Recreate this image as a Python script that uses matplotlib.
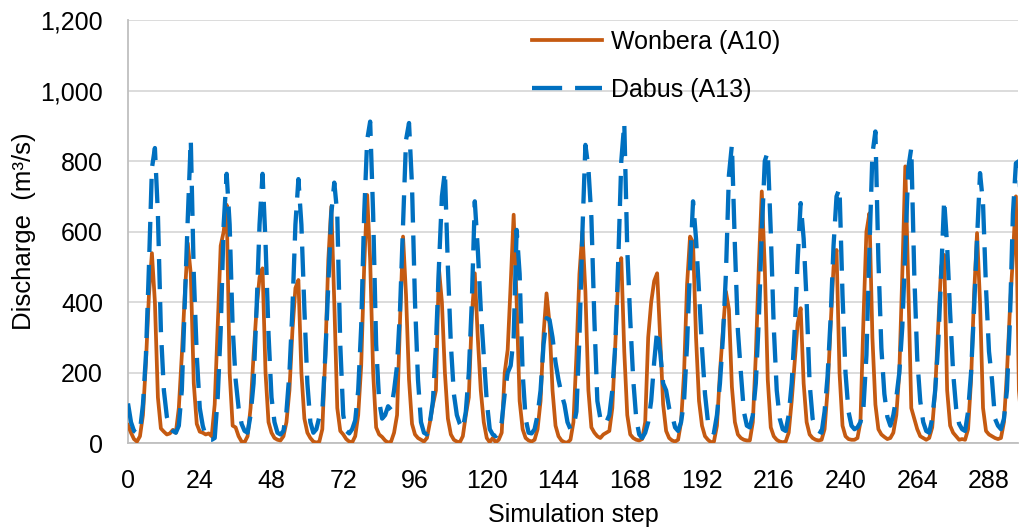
import matplotlib
matplotlib.use("Agg")
import matplotlib.pyplot as plt
from matplotlib.ticker import FuncFormatter

plt.rcParams['font.family'] = ['Liberation Sans', 'DejaVu Sans']

# Monthly simulated discharge (m3/s), one row of 12 values per simulated year
wonbera = [
    52, 30, 12, 5, 20, 80, 230, 420, 539, 400, 130, 42,
    33, 25, 28, 38, 30, 100, 250, 420, 567, 480, 170, 55,
    33, 30, 25, 28, 20, 110, 330, 560, 600, 676, 200, 50,
    45, 20, 5, 3, 20, 100, 250, 380, 470, 496, 200, 60,
    30, 15, 10, 8, 20, 60, 150, 320, 440, 463, 200, 70,
    30, 15, 5, 2, 5, 40, 250, 520, 671, 400, 100, 35,
    25, 12, 5, 3, 20, 80, 220, 500, 704, 520, 200, 45,
    25, 18, 8, 2, 5, 30, 80, 350, 586, 420, 180, 55,
    25, 15, 10, 5, 15, 60, 110, 150, 496, 400, 200, 70,
    25, 10, 5, 3, 20, 80, 130, 360, 482, 300, 150, 60,
    15, 3, 15, 3, 10, 30, 200, 265, 450, 648, 400, 120,
    40, 15, 8, 5, 10, 40, 120, 310, 425, 340, 150, 50,
    20, 8, 3, 2, 10, 60, 250, 480, 600, 430, 150, 45,
    30, 20, 15, 25, 30, 35, 100, 280, 470, 525, 260, 80,
    25, 15, 10, 8, 12, 60, 300, 400, 460, 482, 300, 110,
    35, 15, 8, 5, 10, 60, 200, 450, 586, 570, 300, 120,
    50, 20, 10, 3, 5, 50, 200, 320, 430, 380, 160, 60,
    25, 15, 10, 8, 8, 60, 250, 500, 714, 500, 180, 45,
    20, 10, 5, 3, 5, 30, 120, 230, 340, 383, 170, 60,
    25, 15, 10, 8, 10, 40, 150, 330, 500, 548, 200, 50,
    20, 12, 10, 10, 15, 60, 350, 600, 652, 300, 110, 40,
    25, 18, 12, 15, 30, 80, 200, 480, 785, 450, 100, 70,
    40, 20, 15, 10, 15, 45, 150, 330, 500, 534, 150, 50,
    30, 20, 10, 12, 10, 40, 180, 420, 596, 400, 100, 35,
    25, 20, 15, 12, 15, 60, 200, 380, 530, 700, 150, 50,
]

dabus = [
    113, 60, 35, 28, 35, 110, 250, 500, 780, 837, 650, 320,
    150, 75, 45, 35, 30, 50, 150, 400, 640, 860, 480, 250,
    100, 50, 20, 10, 10, 15, 130, 320, 620, 764, 620, 330,
    180, 100, 55, 35, 30, 80, 170, 380, 620, 764, 570, 310,
    130, 60, 30, 25, 35, 90, 200, 380, 620, 749, 620, 380,
    170, 60, 30, 40, 75, 90, 250, 450, 650, 739, 650, 280,
    80, 35, 28, 40, 65, 150, 330, 650, 860, 912, 650, 280,
    120, 70, 80, 105, 95, 150, 220, 380, 620, 860, 908, 730,
    400, 180, 60, 30, 25, 60, 120, 280, 500, 700, 771, 500,
    280, 140, 80, 55, 40, 90, 200, 400, 686, 550, 380, 250,
    120, 40, 25, 20, 30, 60, 140, 200, 220, 300, 605, 480,
    200, 70, 30, 28, 40, 80, 150, 280, 355, 350, 300, 230,
    180, 140, 110, 60, 40, 45, 90, 300, 600, 846, 780, 640,
    350, 120, 70, 55, 60, 80, 150, 280, 520, 800, 908, 550,
    350, 180, 70, 25, 15, 30, 60, 120, 230, 321, 260, 170,
    150, 100, 80, 45, 35, 60, 120, 280, 500, 686, 580, 430,
    270, 140, 60, 35, 30, 80, 170, 300, 480, 760, 846, 560,
    320, 200, 90, 50, 45, 80, 170, 350, 600, 800, 827, 600,
    330, 150, 70, 40, 35, 80, 170, 320, 520, 681, 580, 400,
    170, 70, 40, 35, 30, 90, 190, 350, 560, 700, 723, 420,
    200, 90, 50, 40, 45, 60, 100, 250, 550, 820, 884, 520,
    270, 140, 75, 50, 80, 130, 200, 330, 550, 780, 837, 480,
    240, 120, 60, 35, 30, 70, 150, 280, 480, 690, 560, 370,
    200, 100, 55, 40, 35, 90, 200, 380, 580, 766, 680, 440,
    260, 180, 70, 50, 40, 70, 150, 350, 650, 794, 800, 600,
]

steps = list(range(len(wonbera)))
x_ticks = list(range(0, 289, 24))
y_ticks = list(range(0, 1201, 200))
series_names = ['Wonbera (A10)', 'Dabus (A13)']

W, H = 1020, 529
fig = plt.figure(figsize=(W / 100, H / 100), dpi=100)
ax = fig.add_axes([128 / W, 1 - 443.3 / H, (1018 - 128) / W, (443.3 - 20) / H])

ax.plot(steps, wonbera, color='#C55A11', lw=2.7, label=series_names[0],
        solid_joinstyle='round', zorder=3)
ax.plot(steps, dabus, color='#0070C0', lw=3.1, dashes=(7.0, 3.0),
        label=series_names[1], zorder=4)

ax.set_xlim(0, 297.7)
ax.set_ylim(0, 1200)
ax.set_xticks(x_ticks)
ax.set_yticks(y_ticks)
ax.yaxis.set_major_formatter(FuncFormatter(lambda v, p: f'{int(v):,}'))

ax.yaxis.grid(True, color='#D9D9D9', lw=1.3, zorder=0)
ax.set_axisbelow(True)
for side in ('top', 'right'):
    ax.spines[side].set_visible(False)
for side in ('left', 'bottom'):
    ax.spines[side].set_color('#BFBFBF')
    ax.spines[side].set_linewidth(1.3)

ax.tick_params(axis='both', length=0, labelsize=18, colors='#000000')
ax.tick_params(axis='y', pad=18)
ax.tick_params(axis='x', pad=18.5)

ax.set_xlabel('Simulation step', fontsize=18, labelpad=7)
ax.set_ylabel('Discharge  (m³/s)', fontsize=18.5, labelpad=3)

leg = ax.legend(loc='upper left', bbox_to_anchor=(532 / W, 1 - 30 / H),
                bbox_transform=fig.transFigure, frameon=False, fontsize=18,
                handlelength=2.8, handletextpad=0.35, labelspacing=0.95,
                borderpad=0, borderaxespad=0)

fig.savefig('out.png', dpi=100)
